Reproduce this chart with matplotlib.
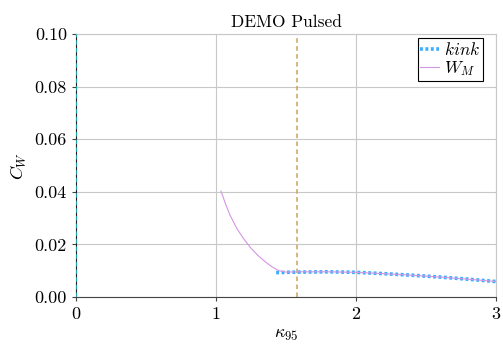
import matplotlib
matplotlib.use('Agg')
import matplotlib.pyplot as plt

plt.rcParams['font.family'] = 'serif'
plt.rcParams['font.serif'] = ['cmr10']
plt.rcParams['mathtext.fontset'] = 'cm'
plt.rcParams['axes.formatter.use_mathtext'] = True

# data
wm_x = [1.036, 1.07, 1.1, 1.15, 1.2, 1.25, 1.3, 1.35, 1.4, 1.45, 1.5, 1.6, 1.8, 2.0, 2.2, 2.4, 2.6, 2.8, 3.0]
wm_y = [0.0403, 0.0352, 0.0312, 0.0260, 0.0220, 0.0186, 0.0158, 0.0135, 0.0115, 0.0100, 0.0095, 0.0096, 0.0096, 0.0094, 0.0089, 0.0083, 0.0076, 0.0068, 0.0059]
kink_x = [1.43, 1.5, 1.6, 1.8, 2.0, 2.2, 2.4, 2.6, 2.8, 3.0]
kink_y = [0.0093, 0.0094, 0.0095, 0.0096, 0.0094, 0.0089, 0.0083, 0.0076, 0.0068, 0.0059]
kappa_ref = 1.58

fig = plt.figure(figsize=(5.03, 3.45), dpi=100)
ax = fig.add_axes([0.151, 0.139, 0.835, 0.762])

ax.plot(kink_x, kink_y, color='#3aaeff', lw=2.6, ls=(0, (0.8, 0.7)), label=r'$kink$', zorder=3)
ax.plot(wm_x, wm_y, '-', color='#d396e3', lw=0.8, label=r'$W_M$', zorder=4)
ax.axvline(kappa_ref, color='#c9a55a', ls=(0, (3, 2.2)), lw=1.1)
ax.axvline(0, color='#20c0d0', ls=(0, (3, 2)), lw=1.1, zorder=5)

ax.set_xlim(0, 3)
ax.set_ylim(0, 0.1)
ax.set_xticks([0, 1, 2, 3])
ax.set_yticks([0, 0.02, 0.04, 0.06, 0.08, 0.10])
ax.set_yticklabels(['0.00', '0.02', '0.04', '0.06', '0.08', '0.10'])
ax.grid(True, color='#c8c8c8', lw=0.8)
ax.set_axisbelow(True)
for s in ['top', 'right']:
	ax.spines[s].set_color('#c8c8c8')
ax.spines['left'].set_color('#222222')
ax.spines['bottom'].set_color('#444444')
ax.tick_params(labelsize=13, length=3, color='#444444')

ax.set_xlabel(r'$\kappa_{95}$', fontsize=13)
ax.set_ylabel(r'$C_W$', fontsize=13)
ax.set_title('DEMO Pulsed', fontsize=12.5, pad=5)

leg = ax.legend(loc='upper right', bbox_to_anchor=(0.98, 1.0), fontsize=12.5, fancybox=False,
	framealpha=1, edgecolor='black', handlelength=1.1, borderpad=0.15, labelspacing=0.05,
	handletextpad=0.3, borderaxespad=0.25)
leg.get_frame().set_linewidth(0.8)

fig.savefig('out.png', dpi=100)
